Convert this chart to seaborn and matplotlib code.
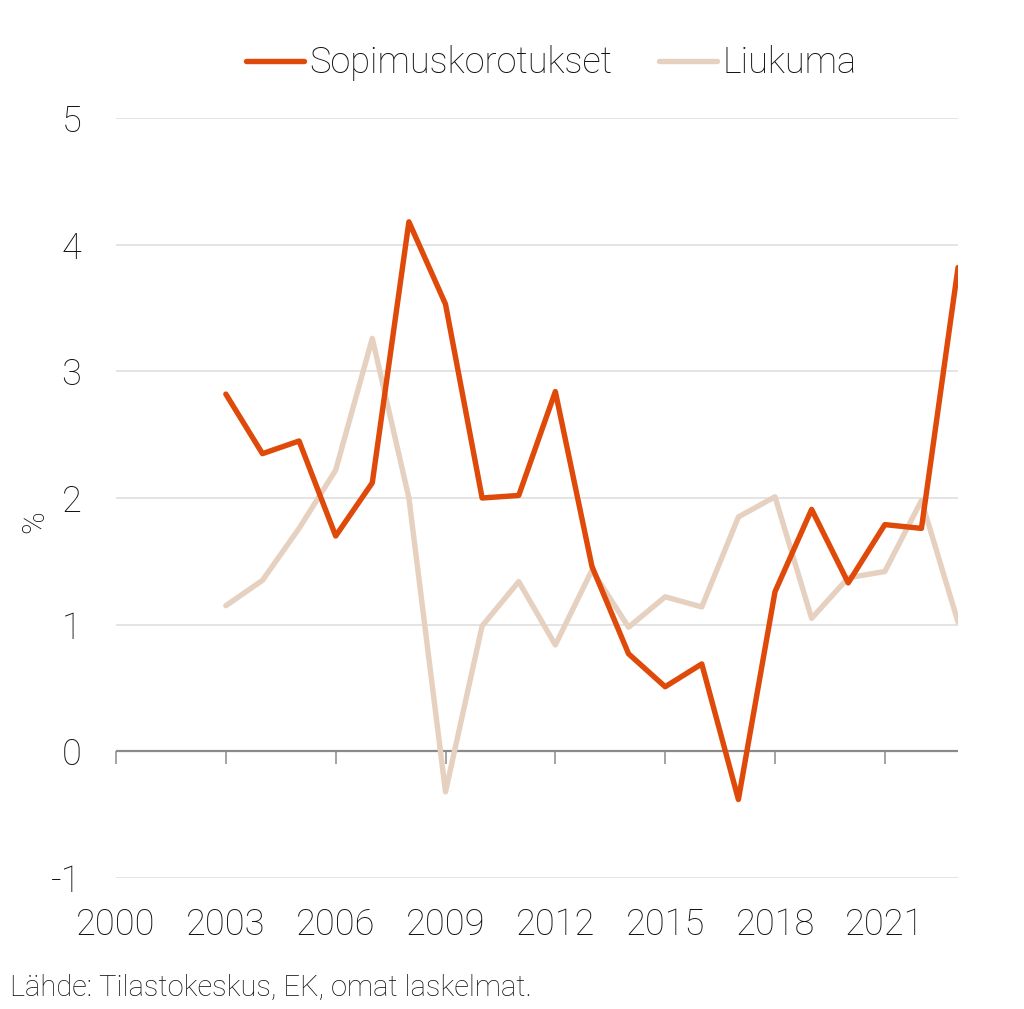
import matplotlib
matplotlib.use("Agg")
import matplotlib.pyplot as plt
import seaborn as sns
import pandas as pd

years = list(range(2003, 2024))
sopimuskorotukset = [2.82, 2.35, 2.45, 1.70, 2.12, 4.18, 3.53, 2.00, 2.02, 2.84, 1.46,
                     0.77, 0.51, 0.69, -0.38, 1.26, 1.91, 1.33, 1.79, 1.76, 3.82]
liukuma = [1.15, 1.35, 1.76, 2.22, 3.26, 2.00, -0.32, 0.99, 1.34, 0.84, 1.43,
           0.98, 1.22, 1.14, 1.85, 2.01, 1.05, 1.37, 1.42, 1.98, 1.02]
series_names = ["Sopimuskorotukset", "Liukuma"]
colors = ["#DF4A0A", "#E6D1C1"]
x_ticks = [2000, 2003, 2006, 2009, 2012, 2015, 2018, 2021]
y_ticks = [-1, 0, 1, 2, 3, 4, 5]

df = pd.concat([
    pd.DataFrame({"Vuosi": years, "Arvo": sopimuskorotukset, "Sarja": series_names[0]}),
    pd.DataFrame({"Vuosi": years, "Arvo": liukuma, "Sarja": series_names[1]}),
])

sns.set_theme(style="white")
plt.rcParams["font.family"] = ["Roboto", "DejaVu Sans"]

fig = plt.figure(figsize=(10.24, 10.09), dpi=100)
ax = fig.add_axes([0.1133, 0.1298, 0.8223, 0.7533])

# grid lines
for y in y_ticks:
    if y != 0:
        ax.axhline(y, color="#dcdcdc", lw=1.1, zorder=0)
ax.axhline(0, color="#8a8a8a", lw=1.6, zorder=1)

sns.lineplot(data=df, x="Vuosi", y="Arvo", hue="Sarja", hue_order=series_names,
             palette=colors, linewidth=3.9, ax=ax, legend=True, zorder=3)
for line in ax.get_lines():
    if line.get_color().lower() == colors[0].lower():
        line.set_zorder(4)

ax.set_xlim(2000, 2023)
ax.set_ylim(-1, 5)
ax.set_xticks(x_ticks)
ax.set_xticklabels([str(t) for t in x_ticks], fontsize=26, fontweight="light", color="#111111")
ax.set_yticks(y_ticks)
ax.set_yticklabels([str(t) for t in y_ticks], fontsize=26, fontweight="light", color="#111111")
ax.tick_params(axis="x", length=0, pad=21)
ax.tick_params(axis="y", length=0, pad=25)
for s in ax.spines.values():
    s.set_visible(False)
ax.set_xlabel("")
ax.set_ylabel("")

# tick marks hanging from the zero line
sec = ax.secondary_xaxis(1 / 6)
sec.set_xticks(x_ticks)
sec.set_xticklabels([""] * len(x_ticks))
sec.tick_params(axis="x", direction="out", length=9, width=1.1, color="#8a8a8a", pad=0)
for s in sec.spines.values():
    s.set_visible(False)

leg = ax.legend(loc="center", bbox_to_anchor=(0.517, 1.072), ncol=2, frameon=False,
                fontsize=26, handlelength=1.6, handletextpad=0.15, columnspacing=1.3)
for t in leg.get_texts():
    t.set_fontweight("light")
    t.set_color("#111111")
for h in leg.get_lines():
    h.set_linewidth(3.9)

fig.text(35 / 1024, 1 - 522 / 1009, "%", rotation=90, ha="center", va="center",
         fontsize=22, fontweight="light", color="#111111")
fig.text(10 / 1024, 1 - 988 / 1009, "Lähde: Tilastokeskus, EK, omat laskelmat.",
         ha="left", va="center", fontsize=21, fontweight="light", color="#111111")

fig.savefig("out.png", dpi=100)
